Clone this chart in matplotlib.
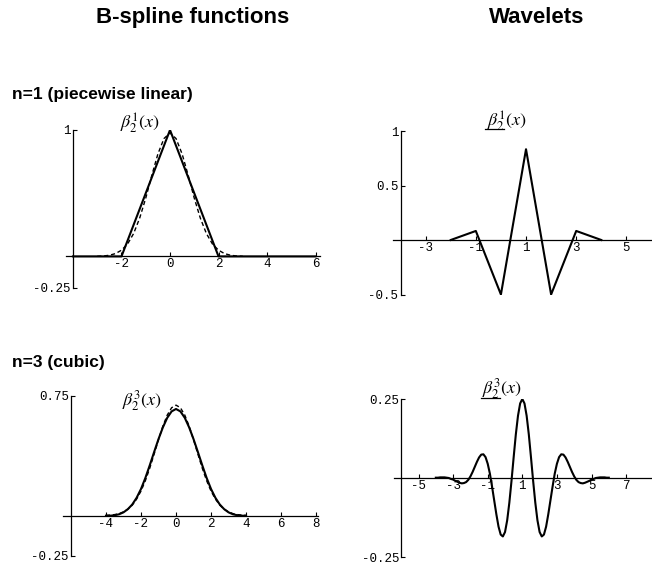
import matplotlib.pyplot as plt
import numpy as np
from matplotlib.lines import Line2D

plt.rcParams['font.family'] = 'Liberation Mono'
plt.rcParams['mathtext.fontset'] = 'stix'
plt.rcParams['axes.unicode_minus'] = False

W, H = 652, 568

# n=1: linear B-spline (solid) and its gaussian approximation (dashed)
lin_x = [-4, -2, 0, 2, 6]
lin_y = [0, 0, 1, 0, 0]
gauss1_x = np.arange(-3, 3.001, 0.25)
gauss1_half = [0.977, 0.932, 0.810, 0.641, 0.461, 0.303, 0.181, 0.098,
               0.049, 0.022, 0.009, 0.003, 0.001]

# n=1: linear spline wavelet
wav1_x = [-2, -1, 0, 1, 2, 3, 4]
wav1_y = [0, 0.083, -0.5, 0.833, -0.5, 0.083, 0]

# n=3: cubic B-spline (solid) and gaussian approximation (dashed)
cub_x = np.arange(-4, 4.001, 0.25)
cub_half = [0.667, 0.652, 0.612, 0.552, 0.479, 0.398, 0.315, 0.236, 0.167,
            0.112, 0.070, 0.041, 0.021, 0.009, 0.003, 0.000, 0.0]
gauss3_half = [0.691, 0.675, 0.629, 0.560, 0.475, 0.385, 0.297, 0.219, 0.154,
               0.104, 0.066, 0.041, 0.024, 0.013, 0.007, 0.004, 0.002]

# n=3: cubic spline wavelet, symmetric around x=1
wav3_x = np.arange(-4, 6.001, 0.125)
wav3_half = [0.250, 0.236, 0.197, 0.138, 0.066, -0.009, -0.078, -0.134,
             -0.171, -0.185, -0.179, -0.154, -0.115, -0.071, -0.027, 0.014,
             0.045, 0.066, 0.075, 0.074, 0.065, 0.051, 0.035, 0.019,
             0.005, -0.006, -0.013, -0.016, -0.017, -0.015, -0.012, -0.009,
             -0.005, -0.003, 0.000, 0.001, 0.002, 0.002, 0.002, 0.001, 0.001]


def sym(half):
    half = list(half)
    return half[::-1] + half[1:]


fig = plt.figure(figsize=(W / 100, H / 100), dpi=100)


def px_axes(x0, x1, y0, y1):
    return fig.add_axes([x0 / W, 1 - y1 / H, (x1 - x0) / W, (y1 - y0) / H])


def style(ax, xlim, ylim, x0, xt, yt, ylabels):
    ax.set_xlim(*xlim)
    ax.set_ylim(*ylim)
    ax.patch.set_visible(False)
    for s in ['top', 'right']:
        ax.spines[s].set_visible(False)
    ax.spines['left'].set_position(('data', x0))
    ax.spines['bottom'].set_position(('data', 0))
    for s in ['left', 'bottom']:
        ax.spines[s].set_linewidth(0.9)
    ax.set_xticks(xt)
    ax.set_xticklabels([str(v) for v in xt])
    ax.set_yticks(yt)
    ax.set_yticklabels(ylabels)
    ax.tick_params(direction='in', length=3, width=0.8, labelsize=9, pad=1.5)


line_kw = dict(color='black', lw=1.5)
dash_kw = dict(color='black', lw=1.0, ls=(0, (3, 2)))

ax1 = px_axes(65.7, 320.4, 130, 288)
ax1.plot(gauss1_x, sym(gauss1_half), **dash_kw)
ax1.plot(lin_x, lin_y, **line_kw)
style(ax1, (-4.3, 6.2), (-0.25, 1.0), -4, [-2, 0, 2, 4, 6], [1, -0.25], ['1', '-0.25'])

ax2 = px_axes(393, 651.5, 131, 294.5)
ax2.plot(wav1_x, wav1_y, **line_kw)
style(ax2, (-4.3, 6.0), (-0.5, 1.0), -4, [-3, -1, 1, 3, 5], [1, 0.5, -0.5], ['1', '0.5', '-0.5'])

ax3 = px_axes(63.1, 317.8, 395.7, 555.7)
ax3.plot(cub_x, sym(gauss3_half), **dash_kw)
ax3.plot(cub_x, sym(cub_half), **line_kw)
style(ax3, (-6.45, 8.1), (-0.25, 0.75), -6, [-4, -2, 0, 2, 4, 6, 8], [0.75, -0.25], ['0.75', '-0.25'])

ax4 = px_axes(394.3, 651.2, 399, 557)
ax4.plot(wav3_x, sym(wav3_half), **line_kw)
style(ax4, (-6.4, 8.45), (-0.25, 0.25), -6, [-5, -3, -1, 1, 3, 5, 7], [0.25, -0.25], ['0.25', '-0.25'])

# headings
head = dict(family='Liberation Sans', weight='bold', ha='center', va='baseline')
fig.text(193 / W, 1 - 23 / H, 'B-spline functions', fontsize=16, **head)
fig.text(537 / W, 1 - 23 / H, 'Wavelets', fontsize=16, **head)
sub = dict(family='Liberation Sans', weight='bold', ha='left', va='center')
fig.text(12 / W, 1 - 95 / H, 'n=1 (piecewise linear)', fontsize=12.5, **sub)
fig.text(12 / W, 1 - 362 / H, 'n=3 (cubic)', fontsize=12.5, **sub)

# function labels
lab = dict(ha='center', va='center', fontsize=13)
fig.text(140 / W, 1 - 123 / H, r'$\beta_2^1(x)$', **lab)
fig.text(507 / W, 1 - 121 / H, r'$\beta_2^1(x)$', **lab)
fig.text(142 / W, 1 - 401 / H, r'$\beta_2^3(x)$', **lab)
fig.text(502 / W, 1 - 389 / H, r'$\beta_2^3(x)$', **lab)
for ux, uy in [(485, 129), (481, 398)]:
    fig.add_artist(Line2D([ux / W, (ux + 19) / W], [1 - uy / H, 1 - uy / H],
                          color='black', lw=0.9))

fig.savefig('out.png', dpi=100)
